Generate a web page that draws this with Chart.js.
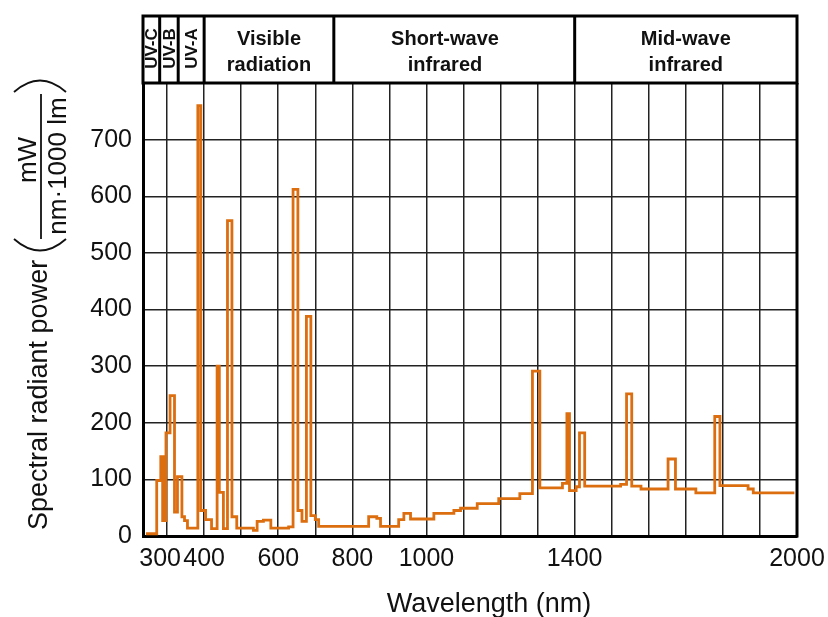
<!DOCTYPE html>
<html>
<head>
<meta charset="utf-8">
<script src="https://cdn.jsdelivr.net/npm/chart.js@4.4.1/dist/chart.umd.min.js"></script>
<style>
  html, body { margin: 0; padding: 0; background: #fff; }
  canvas { display: block; }
</style>
</head>
<body>
<canvas id="spectrumChart" width="828" height="617"></canvas>
<script>
// step points: each value holds from its wavelength up to the next one
var wavelength = [243, 272, 283, 288, 291, 295, 297, 308, 320, 328,
  340, 347, 355, 383, 391, 404, 420, 435, 441, 452,
  463, 475, 488, 533, 543, 560, 580, 628, 640, 653,
  664, 676, 688, 700, 709, 844, 866, 876, 925, 939,
  957, 1020, 1074, 1092, 1137, 1195, 1252, 1286, 1306, 1367,
  1379, 1386, 1404, 1413, 1427, 1524, 1540, 1554, 1579, 1652,
  1672, 1727, 1778, 1792, 1868, 1882, 1993];
var power = [4, 98, 140, 27, 140, 27, 182, 248, 42, 105,
  34, 27, 14, 760, 45, 29, 13, 300, 77, 13,
  557, 34, 14, 10, 26, 28, 14, 16, 612, 45,
  26, 388, 36, 29, 17, 34, 31, 17, 29, 40,
  30, 40, 45, 49, 57, 66, 75, 291, 85, 93,
  216, 80, 87, 182, 88, 91, 251, 88, 83, 136,
  83, 76, 211, 89, 83, 76, 76];

var xLabelled = [300, 400, 600, 800, 1000, 1400, 2000];
var xGrid = [300, 400, 500, 600, 700, 800, 900, 1000, 1100, 1200, 1300, 1400,
  1500, 1600, 1700, 1800, 1900, 2000];

// spectral bands shown in the header strip
var bandEdges = [235, 280, 330, 400, 750, 1400, 2000];
var bandNames = [['UV-C'], ['UV-B'], ['UV-A'], ['Visible', 'radiation'],
  ['Short-wave', 'infrared'], ['Mid-wave', 'infrared']];
var bandLabelAt = [257, 305, 365, 575, 1050, 1700];

var FONT = '"Liberation Sans", Arial, sans-serif';
Chart.defaults.font.family = FONT;

var frame = {
  id: 'frame',
  afterDraw: function(chart) {
    var ctx = chart.ctx, a = chart.chartArea, x = chart.scales.x;
    var top = 16;
    ctx.save();
    ctx.strokeStyle = '#000';
    ctx.lineWidth = 3;
    ctx.strokeRect(a.left, top, a.right - a.left, a.top - top);
    ctx.beginPath();
    ctx.moveTo(a.right, a.top);
    ctx.lineTo(a.right, a.bottom + 1.5);
    ctx.stroke();
    bandEdges.slice(1, -1).forEach(function(nm) {
      var px = x.getPixelForValue(nm);
      ctx.beginPath();
      ctx.moveTo(px, top);
      ctx.lineTo(px, a.top);
      ctx.stroke();
    });

    ctx.fillStyle = '#111';
    bandNames.forEach(function(lines, i) {
      var cx = x.getPixelForValue(bandLabelAt[i]);
      if (lines.length == 1) {
        ctx.save();
        ctx.font = 'bold 17px ' + FONT;
        ctx.textAlign = 'center';
        ctx.textBaseline = 'middle';
        ctx.translate(cx, (top + a.top) / 2 - 1);
        ctx.rotate(-Math.PI / 2);
        ctx.fillText(lines[0], 0, 1);
        ctx.restore();
      } else {
        ctx.font = 'bold 20px ' + FONT;
        ctx.textAlign = 'center';
        ctx.textBaseline = 'alphabetic';
        ctx.fillText(lines[0], cx, 45);
        ctx.fillText(lines[1], cx, 71);
      }
    });

    // axis titles
    ctx.fillStyle = '#111';
    ctx.font = '27px ' + FONT;
    ctx.textAlign = 'center';
    ctx.textBaseline = 'alphabetic';
    ctx.fillText('Wavelength (nm)', 489, 612);

    ctx.save();
    ctx.rotate(-Math.PI / 2);
    ctx.textAlign = 'left';
    ctx.fillText('Spectral radiant power', -530, 47);
    ctx.font = '26px ' + FONT;
    ctx.textAlign = 'center';
    ctx.fillText('mW', -160, 36);
    ctx.fillText('nm\u00b71000 lm', -166, 66);
    ctx.restore();

    ctx.lineWidth = 1.8;
    ctx.strokeStyle = '#111';
    ctx.beginPath();
    ctx.moveTo(41, 94);
    ctx.lineTo(41, 239);
    ctx.stroke();
    ctx.beginPath();
    ctx.moveTo(14, 239);
    ctx.quadraticCurveTo(40, 262, 66, 239);
    ctx.stroke();
    ctx.beginPath();
    ctx.moveTo(14, 92);
    ctx.quadraticCurveTo(40, 69, 66, 92);
    ctx.stroke();
    ctx.restore();
  }
};

var points = wavelength.map(function(w, i) { return {x: w, y: power[i]}; });

var ctx = document.getElementById('spectrumChart').getContext('2d');
var chart = new Chart(ctx, {
  type: 'line',
  data: {
    datasets: [{
      label: 'Spectral radiant power',
      data: points,
      stepped: 'before',
      borderColor: '#dc6e0f',
      borderWidth: 2.8,
      pointRadius: 0,
      fill: false
    }]
  },
  options: {
    responsive: false,
    animation: false,
    devicePixelRatio: 1,
    layout: { padding: { top: 83, right: 31, left: 0, bottom: 0 } },
    plugins: { legend: { display: false }, tooltip: { enabled: false } },
    scales: {
      x: {
        type: 'linear',
        min: 235,
        max: 2000,
        afterBuildTicks: function(scale) {
          scale.ticks = xGrid.map(function(v) { return {value: v}; });
        },
        afterFit: function(scale) {
          scale.height = 81;
          scale.paddingLeft = 0;
          scale.paddingRight = 0;
        },
        ticks: {
          autoSkip: false,
          maxRotation: 0,
          padding: 8,
          color: '#111',
          font: { size: 25 },
          callback: function(v) {
            if (xLabelled.indexOf(v) < 0) return '';
            return v == 300 ? '300  ' : String(v);
          }
        },
        grid: { color: '#222', lineWidth: 1.5, drawTicks: false },
        border: { color: '#000', width: 3 }
      },
      y: {
        min: 0,
        max: 800,
        afterFit: function(scale) {
          scale.width = 143;
          scale.paddingTop = 0;
          scale.paddingBottom = 0;
        },
        ticks: {
          stepSize: 100,
          padding: 11,
          color: '#111',
          font: { size: 25 },
          callback: function(v) { return v == 800 ? '' : v; }
        },
        grid: { color: '#222', lineWidth: 1.5, drawTicks: false },
        border: { color: '#000', width: 3 }
      }
    }
  },
  plugins: [frame]
});
</script>
</body>
</html>
